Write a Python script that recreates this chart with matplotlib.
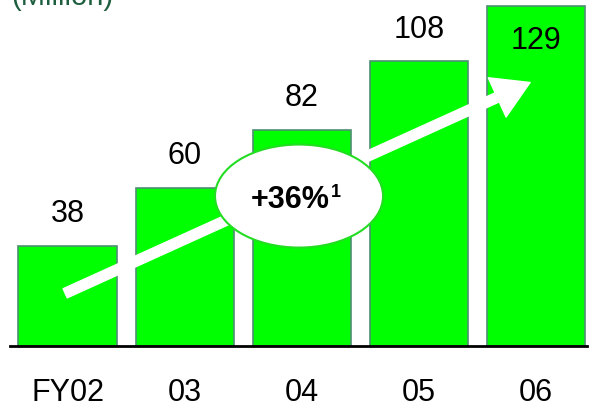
import matplotlib.pyplot as plt
from matplotlib.patches import Ellipse, FancyArrowPatch

plt.rcParams['font.family'] = ['Liberation Sans', 'DejaVu Sans']

years = ['FY02', '03', '04', '05', '06']
values = [38, 60, 82, 108, 129]
growth_label = '+36%'
growth_note = '1'
unit_label = '(Million)'

BAR_GREEN = '#00ff00'
EDGE = '#4f8f72'
UNIT_GREEN = '#1d5e3f'

fig = plt.figure(figsize=(6, 4.13), dpi=100)
# axes spans the baseline line; bottom spine is the baseline
ax = fig.add_axes([10 / 600, 67 / 413, 577 / 600, 346 / 413])

x = list(range(len(values)))
ax.bar(x, values, width=0.837, color=BAR_GREEN, edgecolor=EDGE, linewidth=1.2, zorder=2)

ax.set_xlim(-0.491, 4.436)
ax.set_ylim(0, 131.3)

for s in ['top', 'right', 'left']:
    ax.spines[s].set_visible(False)
ax.spines['bottom'].set_linewidth(2)
ax.spines['bottom'].set_color('black')
ax.set_yticks([])
ax.set_xticks(x)
ax.set_xticklabels(years, fontsize=22)
ax.tick_params(axis='x', length=0, pad=23)

for i, v in enumerate(values):
    if i == len(values) - 1:
        ax.annotate(str(v), (i, v), xytext=(0, -14), textcoords='offset points',
                    ha='center', va='top', fontsize=22, zorder=5)
    else:
        ax.annotate(str(v), (i, v), xytext=(0, 12), textcoords='offset points',
                    ha='center', va='bottom', fontsize=22, zorder=5)

# growth arrow
arrow = FancyArrowPatch((-0.02, 20), (3.95, 100),
                        arrowstyle='simple,head_length=2.6,head_width=3.1,tail_width=0.72',
                        mutation_scale=10, color='white', shrinkA=0, shrinkB=0,
                        zorder=3, clip_on=False)
ax.add_patch(arrow)

ell = Ellipse((1.977, 56.9), 1.435, 39.1, facecolor='white', edgecolor='#22dd22',
              linewidth=1.5, zorder=4, clip_on=False)
ax.add_patch(ell)
ax.text(2.24, 55.5, growth_label, ha='right', va='center', fontsize=22,
        fontweight='bold', zorder=5)
ax.text(2.245, 61.5, growth_note, ha='left', va='top', fontsize=13,
        fontweight='bold', zorder=5)

fig.text(62 / 600, 1 - 5 / 413, unit_label, ha='center', va='baseline',
         fontsize=21, color=UNIT_GREEN)

fig.savefig('out.png', dpi=100)
